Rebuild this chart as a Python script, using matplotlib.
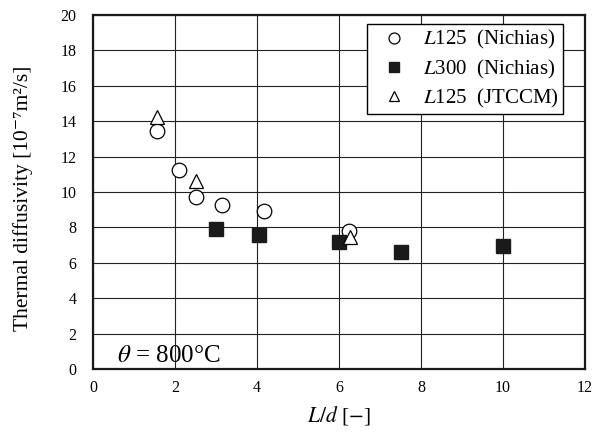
import numpy as np
import matplotlib
matplotlib.use('Agg')
import matplotlib.pyplot as plt

plt.rcParams['font.family'] = ['Liberation Serif', 'DejaVu Serif', 'Noto Sans CJK JP']
plt.rcParams['mathtext.fontset'] = 'stix'

# L125 (Nichias)
x_l125_n = [1.57, 2.09, 2.50, 3.14, 4.18, 6.25]
y_l125_n = [13.46, 11.24, 9.73, 9.28, 8.94, 7.81]
# L300 (Nichias)
x_l300_n = [3.01, 4.06, 5.99, 7.50, 9.99]
y_l300_n = [7.89, 7.55, 7.16, 6.59, 6.97]
# L125 (JTCCM)
x_l125_j = [1.57, 2.50, 6.27]
y_l125_j = [14.26, 10.64, 7.44]

labels = ['$L$125  (Nichias)', '$L$300  (Nichias)', '$L$125  (JTCCM)']
x_ticks = np.arange(0, 13, 2)
y_ticks = np.arange(0, 21, 2)

fig = plt.figure(figsize=(6.14, 4.37), dpi=100)
ax = fig.add_axes([0.1515, 0.1556, 0.8013, 0.81])

ax.plot(x_l125_n, y_l125_n, linestyle='none', marker='o', markersize=10.5,
        markerfacecolor='white', markeredgecolor='black', markeredgewidth=0.9,
        label=labels[0], zorder=3)
ax.plot(x_l300_n, y_l300_n, linestyle='none', marker='s', markersize=9.5,
        markerfacecolor='#1a1a1a', markeredgecolor='#1a1a1a',
        label=labels[1], zorder=3)
ax.plot(x_l125_j, y_l125_j, linestyle='none', marker='^', markersize=10.5,
        markerfacecolor='white', markeredgecolor='black', markeredgewidth=0.9,
        label=labels[2], zorder=4)

ax.set_xlim(0, 12)
ax.set_ylim(0, 20)
ax.set_xticks(x_ticks)
ax.set_yticks(y_ticks)
ax.tick_params(length=0, labelsize=11.5)
ax.tick_params(axis='y', pad=12)
ax.tick_params(axis='x', pad=8)
ax.grid(True, color='#222222', linewidth=0.8)
ax.set_axisbelow(True)
for s in ax.spines.values():
    s.set_linewidth(1.6)
    s.set_color('#1a1a1a')

ax.set_xlabel('$L/d$ [$-$]', fontsize=15.5, labelpad=6)
ax.set_ylabel('Thermal diffusivity [10⁻⁷m²/s]', fontsize=15.5)
ax.yaxis.set_label_coords(-0.122, 0.483)

ax.text(0.048, 0.02, '$\\theta$ = 800°C', transform=ax.transAxes,
        fontsize=18, ha='left', va='baseline')

leg = ax.legend(loc='upper right', bbox_to_anchor=(0.956, 0.974),
                fontsize=15, frameon=True, fancybox=False, edgecolor='black',
                framealpha=1, markerscale=0.75, handlelength=2.2,
                handletextpad=0.3, labelspacing=0.3, borderpad=0.2,
                borderaxespad=0)
leg.get_frame().set_linewidth(1.0)

fig.savefig('out.png', dpi=100)
